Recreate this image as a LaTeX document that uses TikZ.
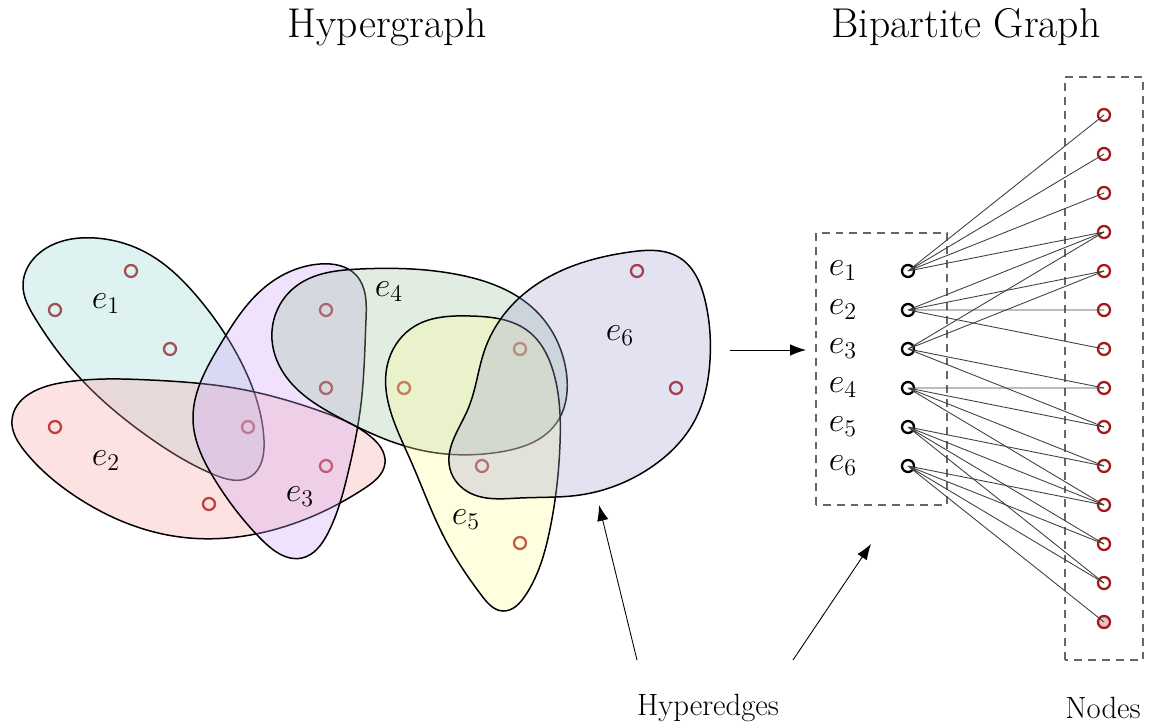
\documentclass[tikz,border=0pt]{standalone}
\usepackage{fix-cm}
\usepackage{amsmath, amssymb}
\usepackage{tikz}
\usetikzlibrary{arrows.meta,hobby}
\usepackage{xcolor}

\definecolor{vred}{RGB}{165,25,25}
\definecolor{eone}{RGB}{150,212,212}
\definecolor{etwo}{RGB}{250,160,160}
\definecolor{ethree}{RGB}{205,160,248}
\definecolor{efour}{RGB}{155,195,155}
\definecolor{efive}{RGB}{255,255,150}
\definecolor{esix}{RGB}{160,160,210}

\begin{document}
\begin{tikzpicture}[
  vtx/.style={circle,draw=vred,line width=1.3pt,inner sep=0pt,minimum size=0.24cm},
  etx/.style={circle,draw=black,line width=1.3pt,inner sep=0pt,minimum size=0.24cm},
  hedge/.style={draw=black,line width=0.85pt,fill=#1,fill opacity=0.3},
  link/.style={draw=black!75,line width=0.5pt},
  dbox/.style={draw=black!60,line width=0.6pt,dash pattern=on 4.5pt off 3.4pt},
  pointer/.style={-{Latex[length=9pt,width=6.5pt]},line width=0.5pt},
  lab/.style={font=\fontsize{19.5}{23}\selectfont},
  title/.style={font=\fontsize{23.7}{28}\selectfont},
  caption/.style={font=\fontsize{17.5}{21}\selectfont}
  ]
\useasboundingbox (0,0) rectangle (23,14.48);
\def\dy{0.78}
% titles
\node[title] (hgt) at (7.74,13.94) {Hypergraph};
\node[title] (bgt) at (19.32,13.94) {Bipartite Graph};
% vertices of the hypergraph
\node[vtx] (A) at (2.62,9.06) {};
\node[vtx] (B) at (1.10,8.28) {};
\node[vtx] (C) at (3.40,7.50) {};
\node[vtx] (D) at (4.96,5.94) {};
\node[vtx] (E) at (1.10,5.94) {};
\node[vtx] (F) at (6.52,5.16) {};
\node[vtx] (G) at (4.18,4.40) {};
\node[vtx] (H) at (6.52,8.28) {};
\node[vtx] (I) at (6.52,6.72) {};
\node[vtx] (J) at (8.08,6.72) {};
\node[vtx] (K) at (10.40,7.50) {};
\node[vtx] (L) at (9.64,5.16) {};
\node[vtx] (M) at (10.40,3.62) {};
\node[vtx] (N) at (12.74,9.06) {};
\node[vtx] (O) at (13.52,6.72) {};
% hyperedges
\path[hedge=eone] plot[closed hobby] coordinates {(0.46,8.78) (1.00,9.56) (1.90,9.72) (2.90,9.44) (4.00,8.48) (4.90,7.08) (5.28,5.68) (5.00,4.94) (4.30,4.98) (3.00,5.72) (1.60,6.92) (0.70,8.12)};
\path[hedge=etwo] plot[closed hobby] coordinates {(0.24,6.08) (1.20,6.82) (3.00,6.88) (4.80,6.70) (6.40,6.26) (7.40,5.76) (7.70,5.22) (7.30,4.72) (5.60,3.92) (3.60,3.74) (1.50,4.56) (0.50,5.45)};
\path[hedge=ethree] plot[closed hobby] coordinates {(3.86,6.08) (4.40,7.58) (5.30,8.74) (6.40,9.20) (7.12,8.98) (7.32,8.08) (7.22,6.40) (6.96,5.02) (6.56,3.82) (6.04,3.32) (5.24,3.68) (4.30,4.88)};
\path[hedge=efour] plot[closed hobby] coordinates {(5.44,7.68) (5.90,8.74) (7.20,9.10) (9.20,8.98) (10.70,8.28) (11.32,7.08) (11.10,5.98) (10.00,5.44) (8.40,5.48) (6.80,6.12) (5.74,6.92)};
\path[hedge=efive] plot[closed hobby] coordinates {(7.78,7.30) (8.30,7.96) (9.40,8.16) (10.56,7.86) (11.08,7.00) (11.20,5.60) (11.00,3.90) (10.50,2.56) (10.06,2.26) (9.64,2.56) (8.90,3.70) (8.20,5.30)};
\path[hedge=esix] plot[closed hobby] coordinates {(9.00,5.10) (9.36,6.30) (9.70,7.50) (10.30,8.44) (11.40,9.14) (12.60,9.44) (13.60,9.32) (14.10,8.48) (14.20,7.28) (13.90,6.08) (13.00,5.12) (11.60,4.58) (10.40,4.52) (9.40,4.62)};
\node[lab] (l1) at (2.12,8.40) {$e_1$};
\node[lab] (l2) at (2.12,5.26) {$e_2$};
\node[lab] (l3) at (6.00,4.54) {$e_3$};
\node[lab] (l4) at (7.78,8.64) {$e_4$};
\node[lab] (l5) at (9.32,4.08) {$e_5$};
\node[lab] (l6) at (12.40,7.76) {$e_6$};
% arrow to the bipartite graph
\coordinate (from) at (14.60,7.48);
\coordinate (to) at (16.12,7.48);
\draw[pointer] (from) -- (to);
% bipartite graph
\draw[dbox] (16.32,4.38) rectangle (18.94,9.82);
\draw[dbox] (21.30,1.28) rectangle (22.86,12.94);
\node[lab] (b1) at (16.86,9.06) {$e_1$};
\node[lab] (b2) at (16.86,{9.06-\dy}) {$e_2$};
\node[lab] (b3) at (16.86,{9.06-2*\dy}) {$e_3$};
\node[lab] (b4) at (16.86,{9.06-3*\dy}) {$e_4$};
\node[lab] (b5) at (16.86,{9.06-4*\dy}) {$e_5$};
\node[lab] (b6) at (16.86,{9.06-5*\dy}) {$e_6$};
\node[etx] (h1) at (18.16,9.06) {};
\node[etx] (h2) at (18.16,{9.06-\dy}) {};
\node[etx] (h3) at (18.16,{9.06-2*\dy}) {};
\node[etx] (h4) at (18.16,{9.06-3*\dy}) {};
\node[etx] (h5) at (18.16,{9.06-4*\dy}) {};
\node[etx] (h6) at (18.16,{9.06-5*\dy}) {};
\node[vtx] (n1) at (22.08,12.18) {};
\node[vtx] (n2) at (22.08,{12.18-\dy}) {};
\node[vtx] (n3) at (22.08,{12.18-2*\dy}) {};
\node[vtx] (n4) at (22.08,{12.18-3*\dy}) {};
\node[vtx] (n5) at (22.08,{12.18-4*\dy}) {};
\node[vtx] (n6) at (22.08,{12.18-5*\dy}) {};
\node[vtx] (n7) at (22.08,{12.18-6*\dy}) {};
\node[vtx] (n8) at (22.08,{12.18-7*\dy}) {};
\node[vtx] (n9) at (22.08,{12.18-8*\dy}) {};
\node[vtx] (n10) at (22.08,{12.18-9*\dy}) {};
\node[vtx] (n11) at (22.08,{12.18-10*\dy}) {};
\node[vtx] (n12) at (22.08,{12.18-11*\dy}) {};
\node[vtx] (n13) at (22.08,{12.18-12*\dy}) {};
\node[vtx,fill=vred!25] (n14) at (22.08,{12.18-13*\dy}) {};
\draw[link] (h1.center) -- (n1.center) (h1.center) -- (n2.center) (h1.center) -- (n3.center) (h1.center) -- (n4.center);
\draw[link] (h2.center) -- (n4.center) (h2.center) -- (n5.center) (h2.center) -- (n6.center) (h2.center) -- (n7.center);
\draw[link] (h3.center) -- (n4.center) (h3.center) -- (n5.center) (h3.center) -- (n8.center) (h3.center) -- (n9.center);
\draw[link] (h4.center) -- (n8.center) (h4.center) -- (n9.center) (h4.center) -- (n10.center) (h4.center) -- (n11.center);
\draw[link] (h5.center) -- (n10.center) (h5.center) -- (n11.center) (h5.center) -- (n12.center) (h5.center) -- (n13.center);
\draw[link] (h6.center) -- (n11.center) (h6.center) -- (n12.center) (h6.center) -- (n13.center) (h6.center) -- (n14.center);
% captions with pointers
\node[caption] (hyp) at (14.16,0.32) {Hyperedges};
\node[caption] (nds) at (22.06,0.32) {Nodes};
\coordinate (p1s) at (12.74,1.28);
\coordinate (p1e) at (11.98,4.38);
\coordinate (p2s) at (15.86,1.28);
\coordinate (p2e) at (17.42,3.60);
\draw[pointer] (p1s) -- (p1e);
\draw[pointer] (p2s) -- (p2e);
\end{tikzpicture}
\end{document}
